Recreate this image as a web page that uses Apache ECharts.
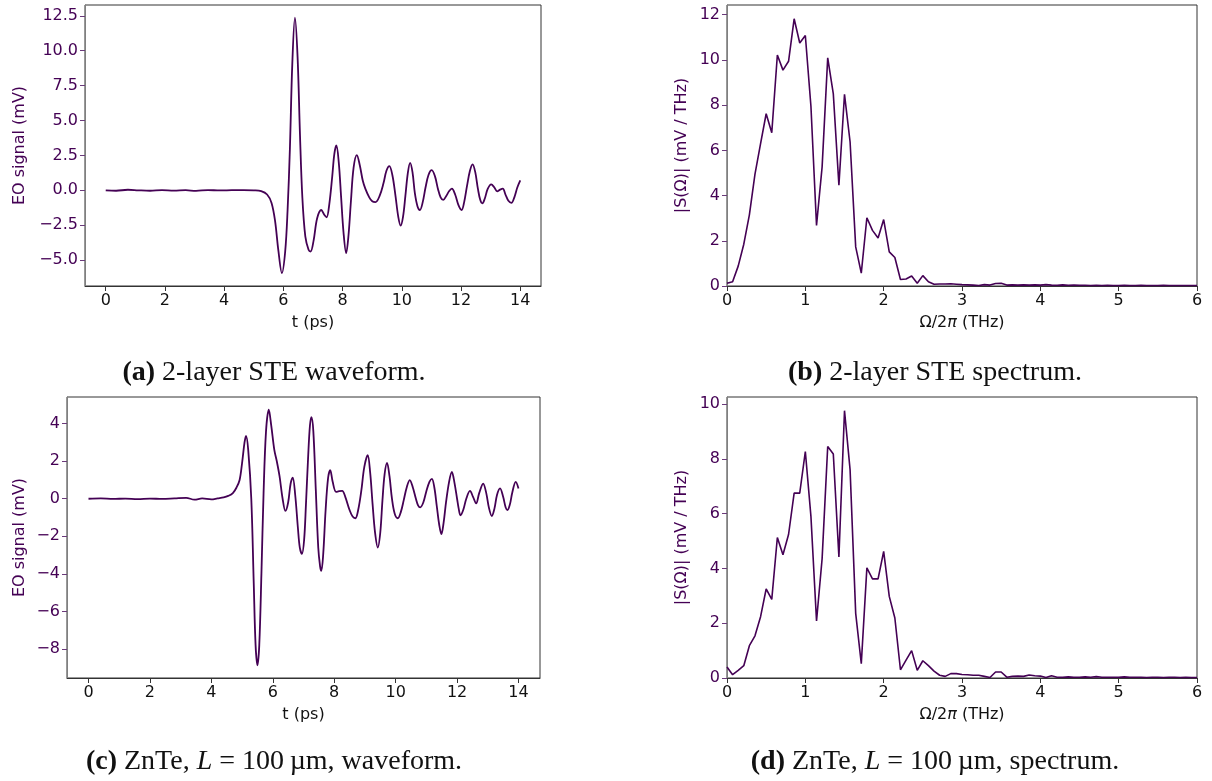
<!DOCTYPE html>
<html>
<head>
<meta charset="utf-8">
<script src="https://cdn.jsdelivr.net/npm/echarts@6/dist/echarts.min.js"></script>
<style>
  html, body { margin: 0; padding: 0; background: #ffffff; }
  #chart { width: 1212px; height: 781px; }
</style>
</head>
<body>
<div id="chart"></div>
<script>
// ---- Data -------------------------------------------------------------
// (a) 2-layer STE waveform: time (ps) and EO signal (mV)
const waveATime = [
  0.00, 0.35, 0.75, 1.10, 1.50, 1.90, 2.30, 2.70, 3.05, 3.45, 3.85, 4.25, 4.65, 5.00,
  5.25, 5.45, 5.60, 5.72, 5.83, 5.95, 6.06, 6.14, 6.22, 6.30, 6.39, 6.48, 6.56, 6.64,
  6.74, 6.85, 6.92, 7.02, 7.14, 7.28, 7.38, 7.46, 7.55, 7.65, 7.72, 7.79, 7.87, 7.95,
  8.03, 8.12, 8.20, 8.28, 8.37, 8.48, 8.58, 8.68, 8.77, 8.90, 9.00, 9.11, 9.25, 9.38,
  9.48, 9.58, 9.68, 9.78, 9.88, 9.96, 10.04, 10.12, 10.20, 10.28, 10.36, 10.44, 10.53,
  10.61, 10.70, 10.80, 10.90, 11.01, 11.12, 11.22, 11.31, 11.40, 11.50, 11.60, 11.69,
  11.80, 11.92, 12.02, 12.10, 12.20, 12.30, 12.39, 12.48, 12.57, 12.65, 12.72, 12.80,
  12.90, 13.02, 13.12, 13.22, 13.32, 13.41, 13.50, 13.60, 13.70, 13.80, 13.90, 14.00
];
const waveAValue = [
  0.00, -0.03, 0.04, 0.00, -0.03, 0.02, -0.02, 0.01, -0.04, 0.02, -0.01, 0.01, 0.02, 0.00,
  -0.06, -0.30, -0.90, -2.20, -4.30, -5.93, -4.40, -1.50, 3.00, 9.00, 12.36, 9.50, 4.00, -0.50,
  -3.30, -4.25, -4.38, -3.60, -2.00, -1.41, -1.75, -1.93, -1.00, 1.00, 2.60, 3.21, 2.00, -0.50,
  -3.00, -4.50, -3.20, -0.80, 1.60, 2.52, 1.80, 0.70, 0.10, -0.50, -0.78, -0.84, -0.40, 0.50,
  1.40, 1.74, 1.10, -0.30, -1.90, -2.53, -1.90, -0.40, 1.20, 1.97, 1.30, -0.20, -1.15,
  -1.41, -0.90, 0.20, 1.10, 1.45, 1.00, 0.10, -0.50, -0.69, -0.40, -0.05, 0.12,
  -0.30, -1.10, -1.41, -0.90, 0.30, 1.40, 1.86, 1.30, 0.10, -0.70, -0.93, -0.60,
  0.10, 0.43, 0.22, -0.07, 0.05, 0.12, -0.30, -0.75, -0.90, -0.50, 0.20, 0.71
];

// (c) ZnTe waveform: time (ps) and EO signal (mV)
const waveCTime = [
  0.00, 0.40, 0.80, 1.20, 1.60, 2.00, 2.40, 2.80, 3.18, 3.45, 3.70, 4.00, 4.20, 4.40,
  4.55, 4.70, 4.82, 4.92, 5.00, 5.08, 5.13, 5.20, 5.30, 5.38, 5.44, 5.50, 5.56, 5.63,
  5.70, 5.78, 5.87, 5.95, 6.05, 6.13, 6.22, 6.32, 6.41, 6.50, 6.58, 6.65, 6.73, 6.82,
  6.88, 6.95, 7.02, 7.08, 7.15, 7.21, 7.26, 7.32, 7.40, 7.48, 7.54, 7.58, 7.64, 7.72,
  7.80, 7.87, 7.95, 8.06, 8.16, 8.26, 8.36, 8.50, 8.60, 8.69, 8.78, 8.88, 8.98, 9.09,
  9.17, 9.25, 9.33, 9.42, 9.50, 9.57, 9.64, 9.72, 9.80, 9.88, 9.97, 10.07, 10.17, 10.26,
  10.36, 10.46, 10.56, 10.66, 10.73, 10.80, 10.90, 11.00, 11.10, 11.18, 11.26, 11.34,
  11.42, 11.49, 11.56, 11.64, 11.74, 11.83, 11.91, 12.00, 12.05, 12.11, 12.20, 12.30,
  12.42, 12.52, 12.62, 12.72, 12.85, 12.95, 13.04, 13.13, 13.22, 13.30, 13.40, 13.50,
  13.58, 13.64, 13.72, 13.80, 13.91, 14.00
];
const waveCValue = [
  0.00, 0.02, -0.01, 0.01, -0.02, 0.01, -0.01, 0.02, 0.05, -0.05, 0.02, -0.03, 0.02, 0.07,
  0.15, 0.30, 0.60, 1.00, 1.90, 3.00, 3.35, 2.60, 0.00, -4.50, -7.80, -8.87, -7.80, -4.00,
  0.30, 3.60, 4.74, 3.90, 2.60, 2.00, 1.20, 0.00, -0.65, -0.20, 0.80, 1.13, 0.20, -1.60,
  -2.60, -2.94, -2.20, -0.30, 2.20, 3.90, 4.35, 3.60, 0.50, -2.60, -3.60, -3.84, -3.00, -0.60,
  1.10, 1.52, 0.90, 0.37, 0.40, 0.42, 0.10, -0.60, -0.95, -1.04, -0.60, 0.40, 1.70, 2.32,
  1.40, -0.30, -1.80, -2.60, -1.80, -0.10, 1.30, 1.91, 1.20, 0.00, -0.80, -1.04, -0.70, -0.10,
  0.60, 0.99, 0.60, 0.00, -0.35, -0.46, -0.20, 0.40, 0.90, 1.06, 0.60, -0.40,
  -1.40, -1.89, -1.30, -0.20, 0.90, 1.43, 0.90, 0.00, -0.50, -0.88, -0.60, 0.00,
  0.42, 0.10, -0.25, 0.30, 0.81, 0.30, -0.50, -0.92, -0.50, 0.20, 0.55, 0.10,
  -0.45, -0.60, -0.30, 0.35, 0.90, 0.55
];

// Spectra |S(Ω)| (mV / THz) on the FFT frequency grid (bin width 1/14 THz)
const specStep = 1 / 14;
const specBValue = [
  0.12, 0.19, 0.88, 1.85, 3.15, 4.95, 6.30, 7.62, 6.78, 10.22, 9.55, 9.94, 11.82, 10.75,
  11.08, 7.95, 2.68, 5.27, 10.09, 8.50, 4.46, 8.48, 6.37, 1.73, 0.57, 3.02, 2.46, 2.12,
  2.94, 1.51, 1.26, 0.29, 0.31, 0.44, 0.12, 0.46, 0.19, 0.08, 0.09, 0.09, 0.10, 0.08,
  0.06, 0.05, 0.04, 0.02, 0.06, 0.04, 0.11, 0.12, 0.04, 0.05, 0.04, 0.05, 0.04, 0.05,
  0.04, 0.06, 0.04, 0.03, 0.05, 0.03, 0.04, 0.03, 0.03, 0.02, 0.03, 0.02, 0.03, 0.02,
  0.02, 0.03, 0.02, 0.02, 0.03, 0.02, 0.02, 0.02, 0.03, 0.02, 0.02, 0.02, 0.02, 0.02, 0.02
];
const specDValue = [
  0.40, 0.12, 0.28, 0.45, 1.18, 1.54, 2.24, 3.25, 2.87, 5.13, 4.50, 5.24, 6.75, 6.75,
  8.27, 5.90, 2.08, 4.36, 8.45, 8.18, 4.42, 9.76, 7.60, 2.36, 0.52, 4.02, 3.62, 3.62,
  4.62, 2.98, 2.19, 0.30, 0.65, 1.00, 0.28, 0.63, 0.45, 0.25, 0.10, 0.06, 0.16, 0.16,
  0.13, 0.12, 0.10, 0.10, 0.06, 0.02, 0.22, 0.22, 0.03, 0.06, 0.07, 0.06, 0.11, 0.08,
  0.07, 0.02, 0.08, 0.03, 0.03, 0.04, 0.03, 0.03, 0.04, 0.03, 0.05, 0.03, 0.03, 0.03,
  0.03, 0.04, 0.03, 0.03, 0.03, 0.02, 0.03, 0.03, 0.02, 0.03, 0.03, 0.02, 0.03, 0.02, 0.02
];

// Tick positions
const timeTicks = [0, 2, 4, 6, 8, 10, 12, 14];
const freqTicks = [0, 1, 2, 3, 4, 5, 6];
const waveATicks = [-5, -2.5, 0, 2.5, 5, 7.5, 10, 12.5];
const waveCTicks = [-8, -6, -4, -2, 0, 2, 4];
const specBTicks = [0, 2, 4, 6, 8, 10, 12];
const specDTicks = [0, 2, 4, 6, 8, 10];

// Captions
const captions = [
  { x: 274, y: 373, text: '{b|(a)} 2-layer STE waveform.' },
  { x: 935, y: 373, text: '{b|(b)} 2-layer STE spectrum.' },
  { x: 274, y: 762, text: '{b|(c)} ZnTe, {i|L} = 100\u2009µm, waveform.' },
  { x: 935, y: 762, text: '{b|(d)} ZnTe, {i|L} = 100\u2009µm, spectrum.' }
];

// ---- Styling helpers --------------------------------------------------
const LINE = '#440154';
const TICK_FONT = 'DejaVu Sans';
const CAPTION_FONT = 'Liberation Serif';
const CAPTION_SIZE = 28;
const minus = s => String(s).replace('-', '\u2212');
const pairs = (xs, ys) => ys.map((v, i) => [xs[i], v]);
const specPairs = ys => ys.map((v, i) => [i * specStep, v]);

function xAxisDef(gridIndex, min, max, ticks, name) {
  return {
    type: 'value', gridIndex, min, max,
    name, nameLocation: 'middle', nameGap: 29,
    nameTextStyle: {
      color: '#111', fontFamily: TICK_FONT, fontSize: 16,
      rich: { it: { fontStyle: 'italic', fontFamily: TICK_FONT, fontSize: 16, color: '#111' } }
    },
    axisLine: { show: true, onZero: false, lineStyle: { color: '#333', width: 1 } },
    axisTick: { show: true, inside: false, length: 5, customValues: ticks, lineStyle: { color: '#333' } },
    axisLabel: {
      show: true, customValues: ticks, margin: 7, color: '#111',
      fontFamily: TICK_FONT, fontSize: 16, formatter: v => minus(v)
    },
    splitLine: { show: false }
  };
}

function yAxisDef(gridIndex, min, max, ticks, name, gap, fmt) {
  return {
    type: 'value', gridIndex, min, max,
    name, nameLocation: 'middle', nameGap: gap, nameRotate: 90,
    nameTextStyle: { color: LINE, fontFamily: TICK_FONT, fontSize: 16 },
    axisLine: { show: true, onZero: false, lineStyle: { color: '#808080', width: 1 } },
    axisTick: { show: true, inside: false, length: 5, customValues: ticks, lineStyle: { color: '#6a3a7a' } },
    axisLabel: {
      show: true, customValues: ticks, margin: 7, color: LINE,
      fontFamily: TICK_FONT, fontSize: 16, formatter: fmt
    },
    splitLine: { show: false }
  };
}

function gridDef(left, top, width, height) {
  return {
    left, top, width, height, containLabel: false,
    show: true, borderColor: '#333', borderWidth: 1, backgroundColor: 'transparent'
  };
}

const chart = echarts.init(document.getElementById('chart'), null, { renderer: 'canvas' });

chart.setOption({
  animation: false,
  backgroundColor: '#ffffff',
  grid: [
    gridDef(85, 5, 456, 281),
    gridDef(727, 5, 470, 281),
    gridDef(67, 397, 473, 281),
    gridDef(727, 397, 470, 281)
  ],
  xAxis: [
    xAxisDef(0, -0.7, 14.7, timeTicks, 't (ps)'),
    xAxisDef(1, 0, 6, freqTicks, 'Ω/2{it|π} (THz)'),
    xAxisDef(2, -0.7, 14.7, timeTicks, 't (ps)'),
    xAxisDef(3, 0, 6, freqTicks, 'Ω/2{it|π} (THz)')
  ],
  yAxis: [
    yAxisDef(0, -6.85, 13.27, waveATicks, 'EO signal (mV)', 57, v => minus(v.toFixed(1))),
    yAxisDef(1, 0, 12.43, specBTicks, '|S(Ω)| (mV / THz)', 37, v => minus(v)),
    yAxisDef(2, -9.55, 5.42, waveCTicks, 'EO signal (mV)', 39, v => minus(v)),
    yAxisDef(3, 0, 10.26, specDTicks, '|S(Ω)| (mV / THz)', 37, v => minus(v))
  ],
  series: [
    {
      type: 'line', xAxisIndex: 0, yAxisIndex: 0, data: pairs(waveATime, waveAValue),
      showSymbol: false, smooth: 0.35, lineStyle: { color: LINE, width: 1.8 }
    },
    {
      type: 'line', xAxisIndex: 1, yAxisIndex: 1, data: specPairs(specBValue),
      showSymbol: false, smooth: false, lineStyle: { color: LINE, width: 1.6 }
    },
    {
      type: 'line', xAxisIndex: 2, yAxisIndex: 2, data: pairs(waveCTime, waveCValue),
      showSymbol: false, smooth: 0.35, lineStyle: { color: LINE, width: 1.8 }
    },
    {
      type: 'line', xAxisIndex: 3, yAxisIndex: 3, data: specPairs(specDValue),
      showSymbol: false, smooth: false, lineStyle: { color: LINE, width: 1.6 }
    }
  ],
  graphic: captions.map(c => ({
    type: 'text', x: c.x, y: c.y,
    style: {
      text: c.text,
      fontFamily: CAPTION_FONT, fontSize: CAPTION_SIZE, fill: '#111',
      align: 'center', verticalAlign: 'middle',
      rich: {
        b: { fontWeight: 'bold', fontFamily: CAPTION_FONT, fontSize: CAPTION_SIZE, fill: '#111' },
        i: { fontStyle: 'italic', fontFamily: CAPTION_FONT, fontSize: CAPTION_SIZE, fill: '#111' }
      }
    }
  }))
});
</script>
</body>
</html>
